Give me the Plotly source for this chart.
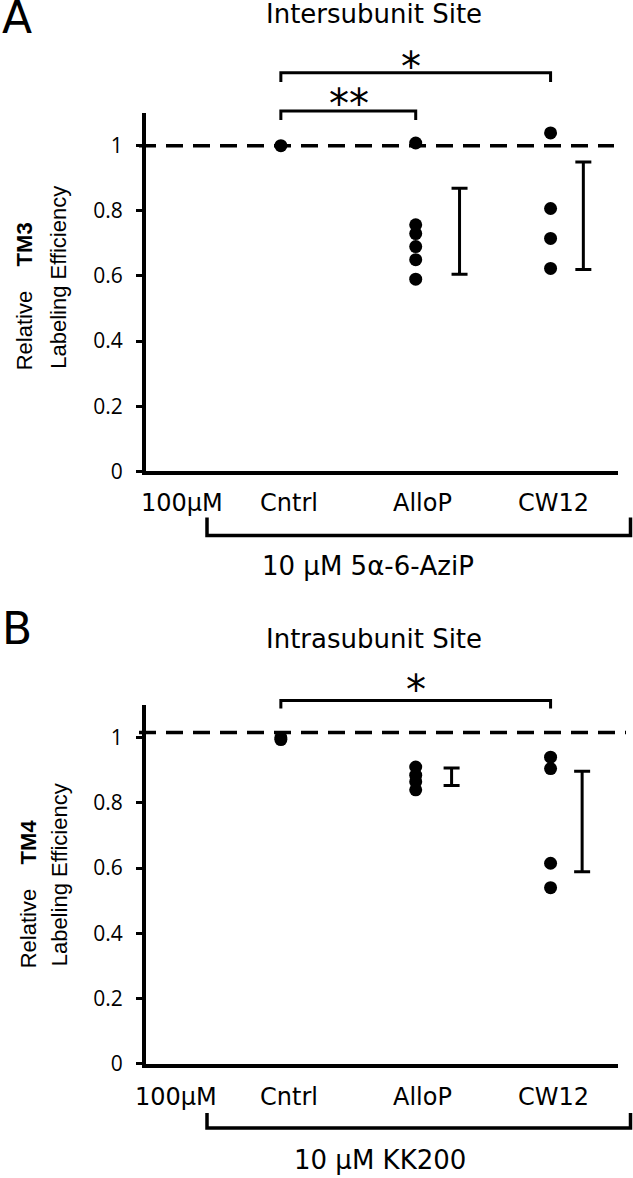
import plotly.graph_objects as go

# ---------------- data ----------------
categories = ["100μM", "Cntrl", "AlloP", "CW12"]

# Panel A: Intersubunit site (TM3), 10 μM 5α-6-AziP
a_cntrl = [1.0]
a_allop = [1.008, 0.757, 0.73, 0.69, 0.65, 0.59]
a_cw12 = [1.039, 0.807, 0.715, 0.623]
a_bar_groups = ["AlloP", "CW12"]
a_bar_mean = [0.737, 0.785]
a_bar_err = [0.132, 0.165]
a_ref = 1.0

# Panel B: Intrasubunit site (TM4), 10 μM KK200
b_cntrl = [1.0, 0.994]
b_allop = [0.91, 0.885, 0.865, 0.84]
b_cw12 = [0.94, 0.905, 0.615, 0.54]
b_bar_groups = ["AlloP", "CW12"]
b_bar_mean = [0.88, 0.743]
b_bar_err = [0.027, 0.154]
b_ref = 1.016

y_tickvals = [0, 0.2, 0.4, 0.6, 0.8, 1]
y_ticktext = ["0", "0.2", "0.4", "0.6", "0.8", "1"]

# ---------------- layout helpers ----------------
W, H = 633, 1178          # reference frame used for positioning (fractions)
FIG_H = 1192              # rendered figure height (fills the captured page)
def px(x):
    return x / W
def py(y):
    return 1 - y / H

SANS = "DejaVu Sans"
ARIAL = "Liberation Sans"
TICKF = "Open Sans"
BLACK = "black"

PANELS = {
    "A": dict(y0=471, scale=325.5),
    "B": dict(y0=1063, scale=326.0),
}
X_LEFT, X_RIGHT, X_MAX = 146, 618, 3.5
ERR_OFFSET = {"A": [0.325, 0.243], "B": [0.266, 0.234]}
LABEL_SHIFT = {"A": [0.27, 0.06, 0.05, 0.02], "B": [0.22, 0.06, 0.05, 0.02]}

fig = go.Figure()

def ymap(panel, v):
    p = PANELS[panel]
    return p["y0"] - v * p["scale"]

def add_panel(panel, xa, ya, groups, bar_groups, bar_mean, bar_err, ref):
    p = PANELS[panel]
    ytop = ymap(panel, 1.1)
    xname = "x" if xa == 1 else f"x{xa}"
    yname = "y" if ya == 1 else f"y{ya}"
    for cat, vals in groups:
        idx = categories.index(cat)
        fig.add_trace(go.Scatter(
            x=[idx] * len(vals), y=vals, mode="markers",
            marker=dict(size=13, color=BLACK), xaxis=xname, yaxis=yname,
            showlegend=False, cliponaxis=False, hoverinfo="y"))
    xs = [categories.index(g) + o for g, o in zip(bar_groups, ERR_OFFSET[panel])]
    fig.add_trace(go.Scatter(
        x=xs, y=bar_mean, mode="markers",
        marker=dict(size=1, color="rgba(0,0,0,0)"),
        error_y=dict(type="data", array=bar_err, visible=True,
                     color=BLACK, thickness=3, width=8),
        xaxis=xname, yaxis=yname, showlegend=False, cliponaxis=False))
    fig.add_shape(type="line", xref="paper", yref=yname,
                  x0=px(139), x1=px(614 if panel == "A" else 626),
                  y0=ref, y1=ref, line=dict(color=BLACK, width=3.5, dash="17px,10px"))
    ax = dict(range=[0, X_MAX], domain=[px(X_LEFT), px(X_RIGHT)],
              showline=True, linecolor=BLACK, linewidth=4, showgrid=False,
              zeroline=False, showticklabels=False, ticks="", fixedrange=True)
    ay = dict(range=[0, 1.1], domain=[py(p["y0"]), py(ytop)],
              showline=True, linecolor=BLACK, linewidth=4, showgrid=False,
              zeroline=False, ticks="outside", ticklen=6, tickwidth=3,
              tickcolor=BLACK, tickvals=y_tickvals, ticktext=y_ticktext,
              tickfont=dict(family=TICKF, size=21, color=BLACK),
              ticklabelstandoff=9, fixedrange=True)
    if xa != 1:
        ay["anchor"] = xname
        ax["anchor"] = yname
    fig.update_layout(**{("xaxis" if xa == 1 else f"xaxis{xa}"): ax,
                         ("yaxis" if ya == 1 else f"yaxis{ya}"): ay})

add_panel("A", 1, 1, [("Cntrl", a_cntrl), ("AlloP", a_allop), ("CW12", a_cw12)],
          a_bar_groups, a_bar_mean, a_bar_err, a_ref)
add_panel("B", 2, 2, [("Cntrl", b_cntrl), ("AlloP", b_allop), ("CW12", b_cw12)],
          b_bar_groups, b_bar_mean, b_bar_err, b_ref)

ann = []
shapes = []

def text(x, y, t, size, family=SANS, xanchor="center", yanchor="middle", angle=0, align="center"):
    ann.append(dict(x=px(x), y=py(y), xref="paper", yref="paper", text=t,
                    showarrow=False, xanchor=xanchor, yanchor=yanchor, align=align,
                    textangle=angle, font=dict(family=family, size=size, color=BLACK)))

def bracket(x0, x1, ytop, ybot, width=3):
    shapes.append(dict(type="path", xref="paper", yref="paper",
                       path=f"M {px(x0)},{py(ybot)} L {px(x0)},{py(ytop)} L {px(x1)},{py(ytop)} L {px(x1)},{py(ybot)}",
                       line=dict(color=BLACK, width=width)))

def xpix(v):
    return X_LEFT + v * (X_RIGHT - X_LEFT) / X_MAX

# Panel letters and titles
text(0, 17, "A", 44, xanchor="left")
text(0, 628, "B", 44, xanchor="left")
text(374, 14, "Intersubunit Site", 26)
text(374, 638, "Intrasubunit Site", 26)

# y-axis titles (rotated)
text(24, 372, "Relative&nbsp;&nbsp;&nbsp;&nbsp;<b>TM3</b>", 22, family=ARIAL,
     yanchor="bottom", angle=-90)
text(59, 371, "Labeling Efficiency", 22, family=ARIAL, yanchor="bottom", angle=-90)
text(28, 970, "Relative&nbsp;&nbsp;&nbsp;&nbsp;<b>TM4</b>", 22, family=ARIAL,
     yanchor="bottom", angle=-90)
text(59, 968, "Labeling Efficiency", 22, family=ARIAL, yanchor="bottom", angle=-90)

# category labels and treatment brackets
for panel, lab_y, br_top, br_bot, lab2_x, lab2_y, lab2 in [
        ("A", 503, 517, 535, 368, 566, "10 μM 5α-6-AziP"),
        ("B", 1096, 1112, 1127, 380, 1159, "10 μM KK200")]:
    for i, c in enumerate(categories):
        text(xpix(i + LABEL_SHIFT[panel][i]), lab_y, c, 24)
    shapes.append(dict(type="path", xref="paper", yref="paper",
                       path=f"M {px(207)},{py(br_top)} L {px(207)},{py(br_bot)} L {px(630.5)},{py(br_bot)} L {px(630.5)},{py(br_top)}",
                       line=dict(color=BLACK, width=3.5)))
    text(lab2_x, lab2_y, lab2, 26)

# significance brackets
bracket(xpix(1), xpix(2), 111, 120)
text(349, 104, "**", 40)
bracket(xpix(1), xpix(3), 72.7, 82)
text(411, 67, "*", 40)
bracket(xpix(1), xpix(3), 700, 708)
text(416, 689, "*", 40)

fig.update_layout(width=W, height=FIG_H, margin=dict(l=0, r=0, t=0, b=0),
                  paper_bgcolor="white", plot_bgcolor="white",
                  annotations=ann, shapes=list(fig.layout.shapes) + shapes,
                  showlegend=False)
fig.write_html(
    "out.html",
    config={"displayModeBar": False},
    post_script=("var gd=document.getElementById('{plot_id}');"
                 "gd.style.position='fixed';gd.style.top='0px';gd.style.left='0px';"
                 "document.body.style.margin='0px';"
                 "document.body.style.overflow='hidden';"
                 "document.documentElement.style.overflow='hidden';"),
)
